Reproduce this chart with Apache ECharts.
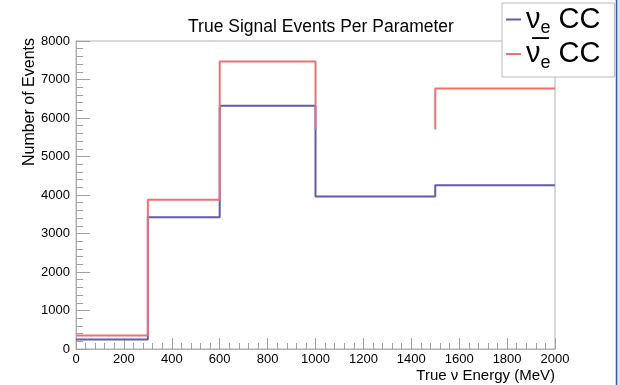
<!DOCTYPE html>
<html>
<head>
<meta charset="utf-8">
<script src="https://cdn.jsdelivr.net/npm/echarts@6/dist/echarts.min.js"></script>
<style>
html, body { margin: 0; padding: 0; background: #fff; }
#chart { width: 620px; height: 385px; }
</style>
</head>
<body>
<div id="chart"></div>
<script>
// bin edges (MeV) and per-bin event counts
var binEdges = [0, 300, 600, 1000, 1500, 2000];
var nueCC = [250, 3420, 6320, 3960, 4255];
var nuebarCC = [350, 3875, 7468, 5700, 6766];
// bins whose top edge is not drawn for the anti-nu histogram
var nuebarHidden = [3];

// step outline of a histogram, with breaks where a bin top is hidden
function histLine(values, hidden) {
    var pts = [];
    for (var i = 0; i < values.length; i++) {
        pts.push([binEdges[i], values[i]]);
        if (hidden && hidden.indexOf(i) >= 0) {
            pts.push([(binEdges[i] + binEdges[i + 1]) / 2, '-']);
        }
        pts.push([binEdges[i + 1], values[i]]);
    }
    return pts;
}

var myChart = echarts.init(document.getElementById('chart'));
var font = 'Liberation Sans, Arial, Helvetica, sans-serif';

var option = {
    backgroundColor: '#fff',
    animation: false,
    textStyle: { fontFamily: font },
    title: {
        text: 'True Signal Events Per Parameter',
        left: 316,
        textAlign: 'center',
        top: 13,
        textStyle: { fontSize: 17.5, fontWeight: 'normal', color: '#000', fontFamily: font }
    },
    legend: {
        orient: 'vertical',
        left: 502,
        top: 3,
        padding: [2, 14, 5, 4],
        itemGap: 2,
        itemWidth: 15,
        itemHeight: 2,
        icon: 'rect',
        borderColor: '#bbb',
        borderWidth: 1,
        backgroundColor: '#fff',
        data: ['nue', 'nuebar'],
        formatter: function (name) {
            if (name === 'nue') return '{a|ν}{b|e}{a| CC}';
            return '{a|ν\u0305}{b|e}{a| CC}';
        },
        textStyle: {
            color: '#000',
            rich: {
                a: { fontSize: 29, lineHeight: 36, fontFamily: font, color: '#000', verticalAlign: 'middle' },
                b: { fontSize: 18, lineHeight: 18, fontFamily: font, color: '#000', verticalAlign: 'bottom' }
            }
        }
    },
    grid: {
        left: 76,
        right: 65,
        top: 41,
        bottom: 36,
        show: true,
        borderColor: '#b0b0b0',
        borderWidth: 1
    },
    xAxis: {
        type: 'value',
        min: 0,
        max: 2000,
        interval: 200,
        axisLine: { show: true, lineStyle: { color: '#b0b0b0' } },
        axisTick: { show: true, inside: true, length: 11, lineStyle: { color: '#a0a0a0' } },
        minorTick: { show: true, splitNumber: 5, length: 6, lineStyle: { color: '#a0a0a0' } },
        splitLine: { show: false },
        axisLabel: { color: '#000', fontSize: 13, margin: 4, fontFamily: font, formatter: function (v) { return String(v); } }
    },
    yAxis: {
        type: 'value',
        min: 0,
        max: 8000,
        interval: 1000,
        axisLine: { show: true, lineStyle: { color: '#b0b0b0' } },
        axisTick: { show: true, inside: true, length: 14, lineStyle: { color: '#a0a0a0' } },
        minorTick: { show: true, splitNumber: 5, length: 7, lineStyle: { color: '#a0a0a0' } },
        splitLine: { show: false },
        axisLabel: { color: '#000', fontSize: 13, margin: 6, fontFamily: font, formatter: function (v) { return String(v); } }
    },
    graphic: [
        {
            type: 'text',
            x: 30,
            y: 38,
            rotation: Math.PI / 2,
            style: {
                text: 'Number of Events',
                fontSize: 16,
                fontFamily: font,
                fill: '#000',
                align: 'right',
                verticalAlign: 'middle'
            }
        },
        {
            type: 'text',
            x: 555,
            y: 376,
            style: {
                text: 'True ν Energy (MeV)',
                fontSize: 15,
                fontFamily: font,
                fill: '#000',
                align: 'right',
                verticalAlign: 'middle'
            }
        },
        {
            type: 'rect',
            shape: { x: 616, y: 0, width: 4, height: 385 },
            style: { fill: '#dfe6f2' },
            silent: true
        },
        {
            type: 'line',
            shape: { x1: 616.5, y1: 0, x2: 616.5, y2: 385 },
            style: { stroke: '#3b5c9c', lineWidth: 1.5 },
            silent: true
        }
    ],
    series: [
        {
            name: 'nue',
            type: 'line',
            showSymbol: false,
            symbol: 'none',
            connectNulls: false,
            lineStyle: { color: '#5c5cb4', width: 2 },
            itemStyle: { color: '#5c5cb4' },
            data: histLine(nueCC, null)
        },
        {
            name: 'nuebar',
            type: 'line',
            showSymbol: false,
            symbol: 'none',
            connectNulls: false,
            lineStyle: { color: '#f07070', width: 2 },
            itemStyle: { color: '#f07070' },
            data: histLine(nuebarCC, nuebarHidden)
        }
    ]
};
myChart.setOption(option);
</script>
</body>
</html>
